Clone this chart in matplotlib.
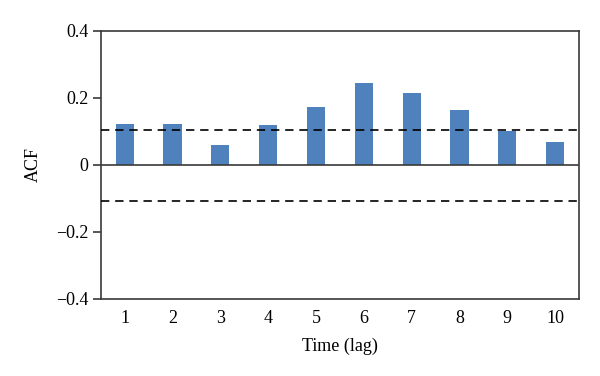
import numpy as np
import matplotlib
matplotlib.use("Agg")
import matplotlib.pyplot as plt

lags=[1,2,3,4,5,6,7,8,9,10]
acf=[0.121,0.121,0.058,0.119,0.172,0.244,0.213,0.165,0.100,0.068]
upper_bound=0.103
lower_bound=-0.109
yticks=[-0.4,-0.2,0,0.2,0.4]
yticklabels=["\u22120.4","\u22120.2","0","0.2","0.4"]

plt.rcParams['font.family']=['Liberation Serif','DejaVu Serif']
spine_col='#3a3a3a'

fig=plt.figure(figsize=(6,3.76),dpi=100)
ax=fig.add_axes([0.168,0.205,0.797,0.713])
ax.bar(lags,acf,width=0.38,color='#4f81bd',zorder=2)
ax.axhline(0,color=spine_col,lw=1.2,zorder=3)
ax.axhline(upper_bound,color='black',lw=1.2,ls=(0,(5,3.5)),zorder=3)
ax.axhline(lower_bound,color='black',lw=1.2,ls=(0,(5,3.5)),zorder=3)

ax.set_xlim(0.5,10.5)
ax.set_ylim(-0.4,0.4)
ax.set_xticks(lags)
ax.set_xticklabels([str(l) for l in lags])
ax.set_yticks(yticks)
ax.set_yticklabels(yticklabels)
ax.tick_params(axis='x',length=0,labelsize=13,pad=8)
ax.tick_params(axis='y',length=6,width=1.2,color=spine_col,labelsize=13,pad=3)
for s in ax.spines.values():
    s.set_color(spine_col)
    s.set_linewidth(1.2)
ax.set_xlabel("Time (lag)",fontsize=13,labelpad=8)
ax.set_ylabel("ACF",fontsize=13,labelpad=10)

fig.savefig("out.png",dpi=100)
